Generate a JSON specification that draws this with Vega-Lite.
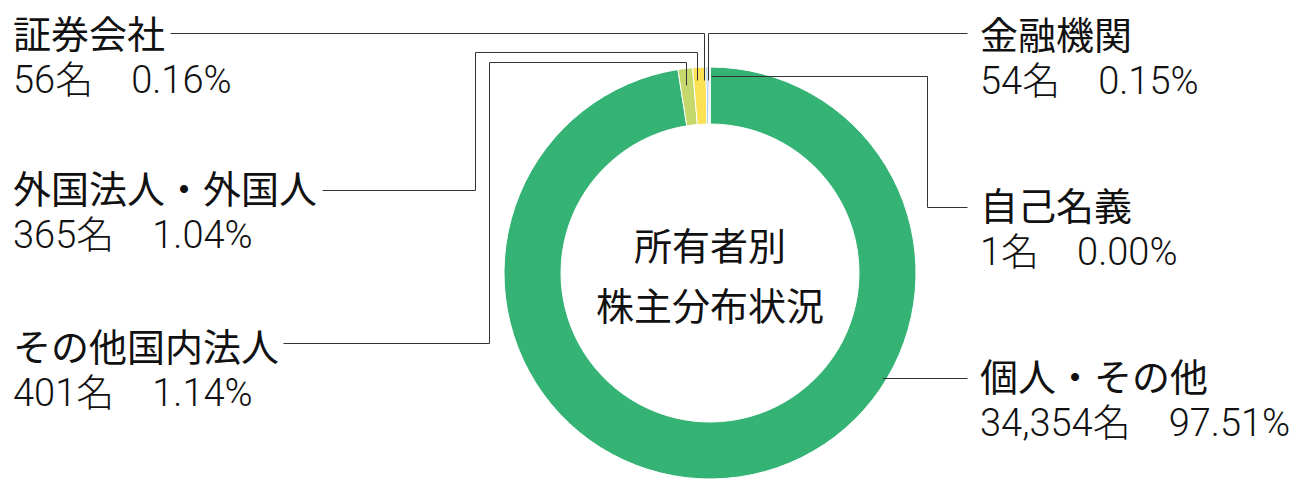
{
  "$schema": "https://vega.github.io/schema/vega-lite/v6.json",
  "width": 1198,
  "height": 444,
  "padding": {"left": 111, "top": 51, "right": 0, "bottom": 0},
  "autosize": {"type": "none"},
  "background": "white",
  "config": {"view": {"stroke": null}},
  "datasets": {
    "holders": [
      {"category": "個人・その他", "count": 34354, "share": 97.51, "detail": "34,354名　97.51%", "rank": 1, "side": "右", "slot": 6},
      {"category": "その他国内法人", "count": 401, "share": 1.14, "detail": "401名　1.14%", "rank": 2, "side": "左", "slot": 5},
      {"category": "外国法人・外国人", "count": 365, "share": 1.04, "detail": "365名　1.04%", "rank": 3, "side": "左", "slot": 3},
      {"category": "証券会社", "count": 56, "share": 0.16, "detail": "56名　0.16%", "rank": 4, "side": "左", "slot": 1},
      {"category": "金融機関", "count": 54, "share": 0.15, "detail": "54名　0.15%", "rank": 5, "side": "右", "slot": 2},
      {"category": "自己名義", "count": 1, "share": 0.0, "detail": "1名　0.00%", "rank": 6, "side": "右", "slot": 4}
    ],
    "leaders": [
      {"category": "証券会社", "seq": 1, "lane_x": 1, "lane_y": 1},
      {"category": "証券会社", "seq": 2, "lane_x": 8, "lane_y": 1},
      {"category": "証券会社", "seq": 3, "lane_x": 8, "lane_y": 5},
      {"category": "金融機関", "seq": 1, "lane_x": 13, "lane_y": 1},
      {"category": "金融機関", "seq": 2, "lane_x": 9, "lane_y": 1},
      {"category": "金融機関", "seq": 3, "lane_x": 9, "lane_y": 5},
      {"category": "外国法人・外国人", "seq": 1, "lane_x": 3, "lane_y": 7},
      {"category": "外国法人・外国人", "seq": 2, "lane_x": 4, "lane_y": 7},
      {"category": "外国法人・外国人", "seq": 3, "lane_x": 4, "lane_y": 2},
      {"category": "外国法人・外国人", "seq": 4, "lane_x": 7, "lane_y": 2},
      {"category": "外国法人・外国人", "seq": 5, "lane_x": 7, "lane_y": 5},
      {"category": "その他国内法人", "seq": 1, "lane_x": 2, "lane_y": 9},
      {"category": "その他国内法人", "seq": 2, "lane_x": 5, "lane_y": 9},
      {"category": "その他国内法人", "seq": 3, "lane_x": 5, "lane_y": 3},
      {"category": "その他国内法人", "seq": 4, "lane_x": 6, "lane_y": 3},
      {"category": "その他国内法人", "seq": 5, "lane_x": 6, "lane_y": 6},
      {"category": "自己名義", "seq": 1, "lane_x": 10, "lane_y": 4},
      {"category": "自己名義", "seq": 2, "lane_x": 12, "lane_y": 4},
      {"category": "自己名義", "seq": 3, "lane_x": 12, "lane_y": 8},
      {"category": "自己名義", "seq": 4, "lane_x": 13, "lane_y": 8},
      {"category": "個人・その他", "seq": 1, "lane_x": 11, "lane_y": 10},
      {"category": "個人・その他", "seq": 2, "lane_x": 13, "lane_y": 10}
    ]
  },
  "layer": [
    {
      "data": {"name": "holders"},
      "mark": {"type": "arc", "radius": 206, "radius2": 149, "stroke": "white", "strokeWidth": 1},
      "encoding": {
        "theta": {"field": "count", "type": "quantitative", "stack": true},
        "order": {"field": "rank", "type": "quantitative"},
        "color": {
          "field": "category",
          "type": "nominal",
          "scale": {
            "domain": ["個人・その他", "その他国内法人", "外国法人・外国人", "証券会社", "金融機関", "自己名義"],
            "range": ["#34b374", "#c4d86c", "#fde154", "#6cb2ea", "#b195d6", "#e8a0b8"]
          },
          "legend": null
        }
      }
    },
    {
      "data": {"name": "leaders"},
      "mark": {"type": "line", "color": "#333333", "strokeWidth": 1, "strokeCap": "butt", "strokeJoin": "miter", "interpolate": "linear"},
      "encoding": {
        "x": {
          "field": "lane_x",
          "type": "quantitative",
          "scale": {
            "domain": [1, 2, 3, 4, 5, 6, 7, 8, 9, 10, 11, 12, 13],
            "range": [59.5, 172.5, 211.5, 364.5, 378.5, 575.5, 586.5, 593.5, 597.5, 600.5, 771.5, 816.5, 856.5],
            "zero": false,
            "nice": false
          },
          "axis": null
        },
        "y": {
          "field": "lane_y",
          "type": "quantitative",
          "scale": {
            "domain": [1, 2, 3, 4, 5, 6, 7, 8, 9, 10],
            "range": [-17.5, 1.5, 11.5, 25.5, 29.5, 34.5, 139.5, 156.5, 292.5, 327.5],
            "zero": false,
            "nice": false
          },
          "axis": null
        },
        "detail": {"field": "category", "type": "nominal"},
        "order": {"field": "seq", "type": "quantitative"}
      }
    },
    {
      "data": {"name": "holders"},
      "mark": {"type": "text", "align": "left", "baseline": "alphabetic", "font": "Noto Sans CJK JP", "fontSize": 38, "color": "#111111"},
      "encoding": {
        "x": {"field": "side", "type": "nominal", "scale": {"type": "point", "domain": ["左", "右"], "range": [-98, 869], "padding": 0}, "axis": null},
        "y": {
          "field": "slot",
          "type": "quantitative",
          "scale": {"domain": [1, 2, 3, 4, 5, 6], "range": [-3.5, -2.5, 151.5, 168.5, 309.5, 339.5], "zero": false, "nice": false},
          "axis": null
        },
        "text": {"field": "category", "type": "nominal"}
      }
    },
    {
      "data": {"name": "holders"},
      "mark": {"type": "text", "align": "left", "baseline": "alphabetic", "dy": 45.5, "font": "Roboto, Noto Sans CJK JP", "fontWeight": 300, "fontSize": 38, "color": "#111111"},
      "encoding": {
        "x": {"field": "side", "type": "nominal", "scale": {"type": "point", "domain": ["左", "右"], "range": [-98, 869], "padding": 0}, "axis": null},
        "y": {
          "field": "slot",
          "type": "quantitative",
          "scale": {"domain": [1, 2, 3, 4, 5, 6], "range": [-3.5, -2.5, 151.5, 168.5, 309.5, 339.5], "zero": false, "nice": false},
          "axis": null
        },
        "text": {"field": "detail", "type": "nominal"}
      }
    },
    {
      "data": {"values": [{"caption": "所有者別株主分布状況"}]},
      "mark": {"type": "text", "text": ["所有者別", "株主分布状況"], "align": "center", "baseline": "middle", "lineHeight": 59.5, "dy": -24, "font": "Noto Sans CJK JP", "fontSize": 38, "color": "#111111"},
      "encoding": {}
    }
  ],
  "resolve": {"scale": {"x": "independent", "y": "independent"}}
}
